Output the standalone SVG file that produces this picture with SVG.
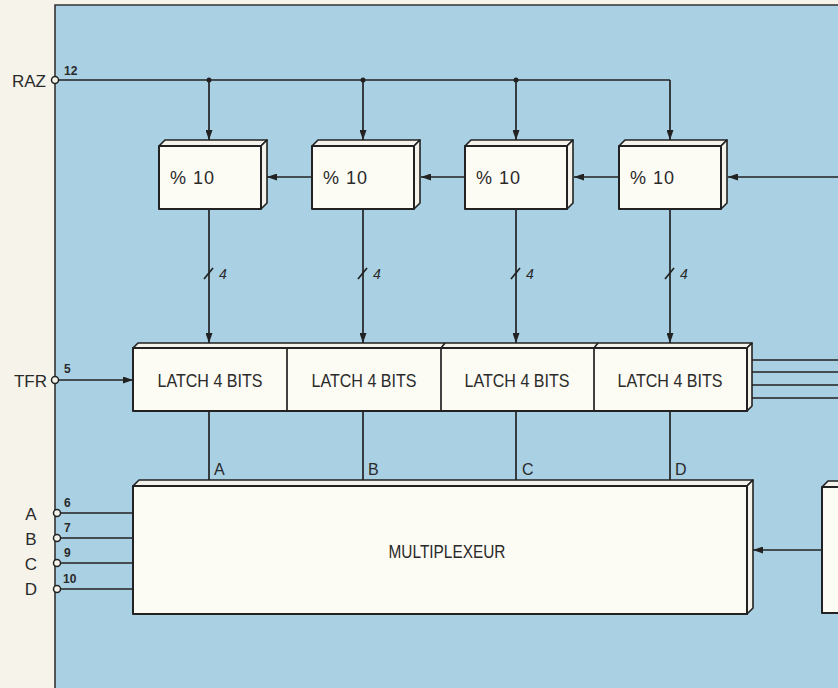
<svg xmlns="http://www.w3.org/2000/svg" width="838" height="688" viewBox="0 0 838 688">
<defs>
<marker id="ah" viewBox="0 0 10 7" refX="10" refY="3.5" markerWidth="10" markerHeight="7" markerUnits="userSpaceOnUse" orient="auto">
<path d="M0,0 L10,3.5 L0,7 z" fill="#222"/>
</marker>
<style>
.bx{fill:#fcfbf4;stroke:#222;stroke-width:2;stroke-linejoin:round}
.sd{fill:#f4f2ea;stroke:#222;stroke-width:1.6;stroke-linejoin:round}
.ln{fill:none;stroke:#222;stroke-width:1.7}
.ar{fill:none;stroke:#222;stroke-width:1.7;marker-end:url(#ah)}
.pin{fill:#f6f4ea;stroke:#222;stroke-width:1.5}
.t{font-family:"Liberation Sans",Arial,sans-serif;fill:#2a2a2a}
.lab{font-size:18px}
.num{font-size:12px;font-weight:bold}
</style>
</defs>
<rect x="0" y="0" width="838" height="688" fill="#f5f3ea"/>
<rect x="55" y="5" width="790" height="690" fill="#a9d0e3"/>
<path d="M55,688 L55,5 L838,5" fill="none" stroke="#333" stroke-width="1.6"/>

<g id="connectors">
<path class="ln" d="M55,80 L670,80"/>
<circle cx="209" cy="80" r="2.5" fill="#222"/>
<circle cx="363" cy="80" r="2.5" fill="#222"/>
<circle cx="516" cy="80" r="2.5" fill="#222"/>
<path class="ar" d="M209,80 L209,140"/>
<path class="ar" d="M363,80 L363,140"/>
<path class="ar" d="M516,80 L516,140"/>
<path class="ar" d="M670,80 L670,140"/>
<path class="ar" d="M838,177 L728,177"/>
<path class="ar" d="M619,177 L574,177"/>
<path class="ar" d="M465,177 L421,177"/>
<path class="ar" d="M312,177 L267,177"/>
<path class="ar" d="M209,209 L209,343"/>
<path class="ar" d="M363,209 L363,343"/>
<path class="ar" d="M516,209 L516,343"/>
<path class="ar" d="M670,209 L670,343"/>
<g class="ln">
<path d="M204,279 L213,268"/>
<path d="M358,279 L367,268"/>
<path d="M511,279 L520,268"/>
<path d="M665,279 L674,268"/>
</g>
<g class="t" font-size="14" font-style="italic">
<text x="219" y="279">4</text>
<text x="373" y="279">4</text>
<text x="526" y="279">4</text>
<text x="680" y="279">4</text>
</g>
<path class="ar" d="M55,380 L133,380"/>
<path class="ln" d="M209,411 L209,486"/>
<path class="ln" d="M363,411 L363,486"/>
<path class="ln" d="M516,411 L516,486"/>
<path class="ln" d="M670,411 L670,486"/>
<g class="t" font-size="16">
<text x="214" y="475">A</text>
<text x="368" y="475">B</text>
<text x="522" y="475">C</text>
<text x="675" y="475">D</text>
</g>
<path class="ln" d="M752,360 L838,360 M752,372 L838,372 M752,385 L838,385 M752,398 L838,398"/>
<path class="ln" d="M57,513 L133,513 M57,538 L133,538 M57,563 L133,563 M57,589 L133,589"/>
<path class="ar" d="M822,550 L753,550"/>
</g>

<g id="pins">
<circle class="pin" cx="55" cy="80" r="3.5"/>
<circle class="pin" cx="55" cy="380" r="3.5"/>
<circle class="pin" cx="57" cy="513" r="3.5"/>
<circle class="pin" cx="57" cy="538" r="3.5"/>
<circle class="pin" cx="57" cy="563" r="3.5"/>
<circle class="pin" cx="57" cy="589" r="3.5"/>
<text class="t" x="46" y="87" font-size="17" text-anchor="end">RAZ</text>
<text class="t num" x="64" y="75">12</text>
<text class="t" x="47" y="387" font-size="17" text-anchor="end">TFR</text>
<text class="t num" x="64" y="373">5</text>
<text class="t num" x="64" y="507">6</text>
<text class="t num" x="64" y="532">7</text>
<text class="t num" x="64" y="557">9</text>
<text class="t num" x="63" y="583">10</text>
<g class="t" font-size="17" text-anchor="middle">
<text x="31" y="520">A</text>
<text x="31" y="545">B</text>
<text x="31" y="570">C</text>
<text x="31" y="595">D</text>
</g>
</g>

<g id="counter1">
<polygon class="sd" points="159,146 165,140 267,140 261,146"/>
<polygon class="sd" points="261,146 267,140 267,203 261,209"/>
<rect class="bx" x="159" y="146" width="102" height="63"/>
<text class="t" x="170" y="184" font-size="18" textLength="44">% 10</text>
</g>
<g id="counter2">
<polygon class="sd" points="312,146 318,140 420,140 414,146"/>
<polygon class="sd" points="414,146 420,140 420,203 414,209"/>
<rect class="bx" x="312" y="146" width="102" height="63"/>
<text class="t" x="323" y="184" font-size="18" textLength="44">% 10</text>
</g>
<g id="counter3">
<polygon class="sd" points="465,146 471,140 573,140 567,146"/>
<polygon class="sd" points="567,146 573,140 573,203 567,209"/>
<rect class="bx" x="465" y="146" width="102" height="63"/>
<text class="t" x="476" y="184" font-size="18" textLength="44">% 10</text>
</g>
<g id="counter4">
<polygon class="sd" points="619,146 625,140 727,140 721,146"/>
<polygon class="sd" points="721,146 727,140 727,203 721,209"/>
<rect class="bx" x="619" y="146" width="102" height="63"/>
<text class="t" x="630" y="184" font-size="18" textLength="44">% 10</text>
</g>

<g id="latches">
<polygon class="sd" points="133,348 138,343 752,343 747,348"/>
<polygon class="sd" points="747,348 752,343 752,406 747,411"/>
<rect class="bx" x="133" y="348" width="614" height="63"/>
<path class="ln" d="M287,348 L287,411 M441,348 L441,411 M594,348 L594,411 M441,348 L445,343 M594,348 L598,343"/>
<g class="t lab" text-anchor="middle">
<text x="210" y="387" textLength="105" lengthAdjust="spacingAndGlyphs">LATCH 4 BITS</text>
<text x="364" y="387" textLength="105" lengthAdjust="spacingAndGlyphs">LATCH 4 BITS</text>
<text x="517" y="387" textLength="105" lengthAdjust="spacingAndGlyphs">LATCH 4 BITS</text>
<text x="670" y="387" textLength="105" lengthAdjust="spacingAndGlyphs">LATCH 4 BITS</text>
</g>
</g>

<g id="multiplexeur">
<polygon class="sd" points="133,486 139,480 753,480 747,486"/>
<polygon class="sd" points="747,486 753,480 753,608 747,614"/>
<rect class="bx" x="133" y="486" width="614" height="128"/>
<text class="t lab" x="447" y="558" text-anchor="middle" textLength="117" lengthAdjust="spacingAndGlyphs">MULTIPLEXEUR</text>
</g>

<g id="right-block">
<polygon class="sd" points="822,487 828,481 850,481 844,487"/>
<rect class="bx" x="822" y="487" width="30" height="126"/>
</g>
</svg>
